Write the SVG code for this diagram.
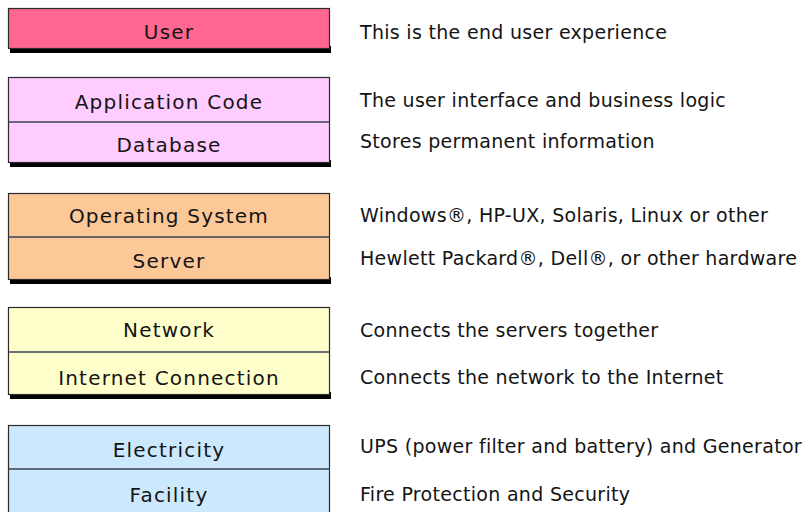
<svg xmlns="http://www.w3.org/2000/svg" width="809" height="512" viewBox="0 0 809 512">
<style>
.box{stroke:#2b2b2b;stroke-width:1.2}
.shadow{fill:#000}
.div{stroke:#3a4250;stroke-width:1.6}
.lbl{font-family:"DejaVu Sans",sans-serif;font-size:20px;letter-spacing:1.2px;fill:#141414;text-anchor:middle}
.desc{font-family:"DejaVu Sans",sans-serif;font-size:19px;letter-spacing:0.3px;fill:#141414}
</style>
<rect width="809" height="512" fill="#ffffff"/>
<g id="user">
<rect class="shadow" x="10" y="46" width="321" height="7"/>
<rect class="box" x="8.5" y="8.5" width="321" height="40" fill="#ff6690"/>
<text class="lbl" x="169" y="39">User</text>
</g>
<g id="application">
<rect class="shadow" x="10" y="160" width="321" height="7"/>
<rect class="box" x="8.5" y="77.5" width="321" height="85" fill="#ffccff"/>
<line class="div" x1="8.5" y1="122" x2="329.5" y2="122"/>
<text class="lbl" x="169" y="109">Application Code</text>
<text class="lbl" x="169" y="152">Database</text>
</g>
<g id="system">
<rect class="shadow" x="10" y="277" width="321" height="7"/>
<rect class="box" x="8.5" y="193.5" width="321" height="86" fill="#fdc898"/>
<line class="div" x1="8.5" y1="237" x2="329.5" y2="237"/>
<text class="lbl" x="169" y="223">Operating System</text>
<text class="lbl" x="169" y="268">Server</text>
</g>
<g id="network">
<rect class="shadow" x="10" y="392" width="321" height="7"/>
<rect class="box" x="8.5" y="307.5" width="321" height="87" fill="#ffffcc"/>
<line class="div" x1="8.5" y1="352" x2="329.5" y2="352"/>
<text class="lbl" x="169" y="337">Network</text>
<text class="lbl" x="169" y="385">Internet Connection</text>
</g>
<g id="facility">
<rect class="box" x="8.5" y="425.5" width="321" height="95" fill="#cce8fc"/>
<line class="div" x1="8.5" y1="469" x2="329.5" y2="469"/>
<text class="lbl" x="169" y="457">Electricity</text>
<text class="lbl" x="169" y="502">Facility</text>
</g>
<g id="descriptions">
<text class="desc" x="360" y="39">This is the end user experience</text>
<text class="desc" x="360" y="107">The user interface and business logic</text>
<text class="desc" x="360" y="148">Stores permanent information</text>
<text class="desc" x="360" y="222">Windows®, HP-UX, Solaris, Linux or other</text>
<text class="desc" x="360" y="265">Hewlett Packard®, Dell®, or other hardware</text>
<text class="desc" x="360" y="337">Connects the servers together</text>
<text class="desc" x="360" y="384">Connects the network to the Internet</text>
<text class="desc" x="360" y="453">UPS (power filter and battery) and Generator</text>
<text class="desc" x="360" y="501">Fire Protection and Security</text>
</g>
<g id="connectors"/>
</svg>
